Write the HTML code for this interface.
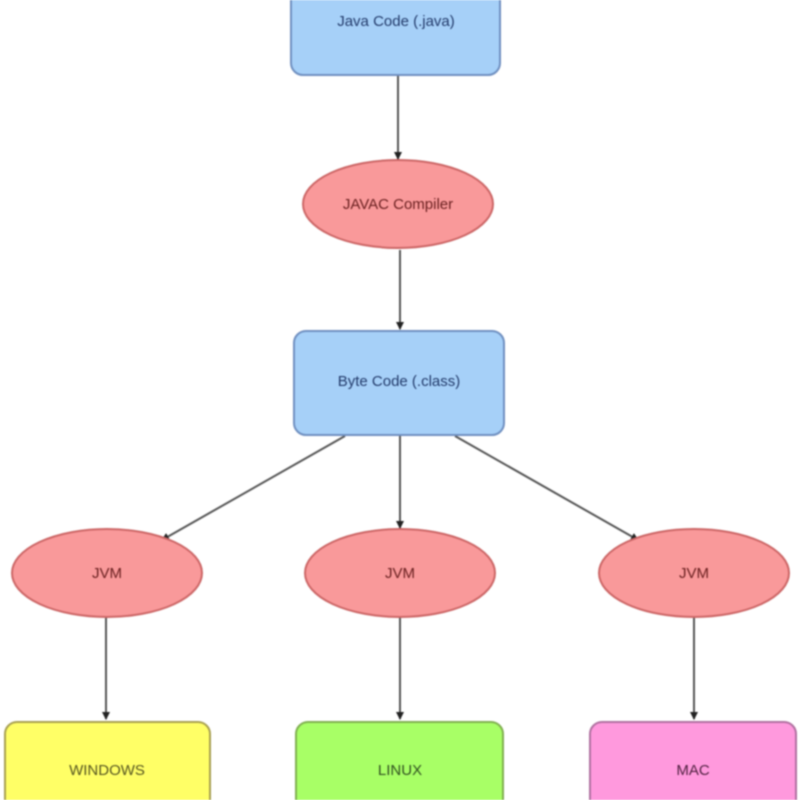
<!DOCTYPE html>
<html><head><meta charset="utf-8"><style>
html,body{margin:0;padding:0;background:#fff;width:800px;height:800px;overflow:hidden}
svg{display:block;filter:blur(0.8px)}
text{font-family:"Liberation Sans",sans-serif;font-size:15px;text-anchor:middle;dominant-baseline:middle}
</style></head><body>
<svg width="800" height="800" viewBox="0 0 800 800">
<defs><marker id="a" markerWidth="8" markerHeight="8" refX="7" refY="4" orient="auto" markerUnits="userSpaceOnUse"><path d="M0,0 L8,4 L0,8 z" fill="#222"/></marker></defs>
<g stroke="#555" stroke-width="2" fill="none">
<line x1="398" y1="76" x2="398" y2="159" marker-end="url(#a)"/>
<line x1="400" y1="250" x2="400" y2="329" marker-end="url(#a)"/>
<line x1="345" y1="436" x2="162" y2="540" marker-end="url(#a)"/>
<line x1="400" y1="436" x2="400" y2="528" marker-end="url(#a)"/>
<line x1="455" y1="436" x2="638" y2="540" marker-end="url(#a)"/>
<line x1="106" y1="618" x2="106" y2="719" marker-end="url(#a)"/>
<line x1="400" y1="618" x2="400" y2="719" marker-end="url(#a)"/>
<line x1="694" y1="618" x2="694" y2="719" marker-end="url(#a)"/>
</g>
<rect x="291" y="-12" width="209" height="87" rx="12" fill="#a6d0f8" stroke="#6f8fc0" stroke-width="2"/>
<text x="396" y="22" fill="#223a6a">Java Code (.java)</text>
<ellipse cx="398" cy="204" rx="95" ry="44" fill="#f9999a" stroke="#c66" stroke-width="2"/>
<text x="398" y="205" fill="#6a2020">JAVAC Compiler</text>
<rect x="294" y="331" width="210" height="104" rx="12" fill="#a6d0f8" stroke="#6f8fc0" stroke-width="2"/>
<text x="399" y="382" fill="#223a6a">Byte Code (.class)</text>
<ellipse cx="107" cy="573" rx="95" ry="44" fill="#f9999a" stroke="#c66" stroke-width="2"/>
<text x="107" y="574" fill="#6a2020">JVM</text>
<ellipse cx="400" cy="573" rx="95" ry="44" fill="#f9999a" stroke="#c66" stroke-width="2"/>
<text x="400" y="574" fill="#6a2020">JVM</text>
<ellipse cx="694" cy="573" rx="95" ry="44" fill="#f9999a" stroke="#c66" stroke-width="2"/>
<text x="694" y="574" fill="#6a2020">JVM</text>
<rect x="5" y="722" width="205" height="95" rx="12" fill="#ffff66" stroke="#a8a050" stroke-width="2"/>
<text x="107" y="771" fill="#555520">WINDOWS</text>
<rect x="296" y="722" width="207" height="95" rx="12" fill="#a8ff66" stroke="#80b050" stroke-width="2"/>
<text x="400" y="771" fill="#305020">LINUX</text>
<rect x="590" y="722" width="206" height="95" rx="12" fill="#ff99dd" stroke="#b070a0" stroke-width="2"/>
<text x="693" y="771" fill="#502040">MAC</text>
</svg>
</body></html>
